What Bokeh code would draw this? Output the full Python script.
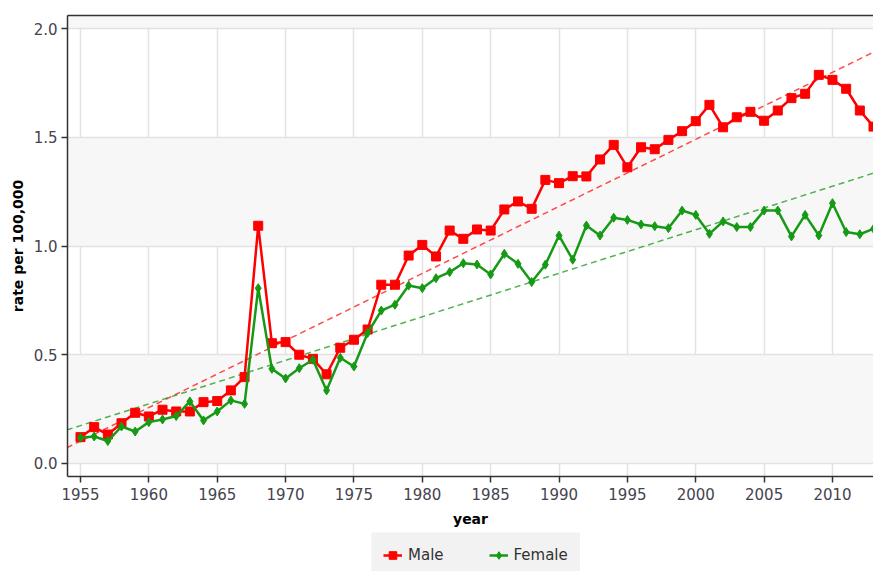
from bokeh.plotting import figure
from bokeh.layouts import column, row
from bokeh.models import (Range1d, SingleIntervalTicker, FixedTicker, Legend, LegendItem,
                          NumeralTickFormatter, LinearAxis, Spacer)
from bokeh.embed import file_html
from bokeh.resources import INLINE

years = list(range(1955, 2014))
male = [0.121, 0.167, 0.133, 0.185, 0.233, 0.216, 0.247, 0.239, 0.239, 0.282, 0.287, 0.336, 0.397,
        1.093, 0.553, 0.558, 0.500, 0.481, 0.410, 0.532, 0.569,
        0.616, 0.822, 0.822, 0.956, 1.005, 0.952, 1.071, 1.033, 1.076, 1.071,
        1.168, 1.205, 1.171, 1.304, 1.289, 1.321, 1.320, 1.398, 1.465, 1.362,
        1.454, 1.445, 1.488, 1.528, 1.574, 1.649, 1.546, 1.592, 1.617, 1.576,
        1.623, 1.680, 1.700, 1.787, 1.764, 1.723, 1.623, 1.549]
female = [0.118, 0.124, 0.103, 0.170, 0.147, 0.190, 0.202, 0.218, 0.285, 0.198, 0.239, 0.290, 0.274,
          0.806, 0.435, 0.391, 0.438, 0.477, 0.336, 0.486, 0.446,
          0.600, 0.703, 0.730, 0.818, 0.806, 0.852, 0.880, 0.921, 0.915, 0.869,
          0.964, 0.918, 0.834, 0.914, 1.048, 0.937, 1.094, 1.048, 1.130, 1.120,
          1.099, 1.091, 1.082, 1.163, 1.143, 1.056, 1.113, 1.087, 1.087, 1.163,
          1.163, 1.044, 1.143, 1.048, 1.197, 1.064, 1.054, 1.079]
trend_years = [1954, 2014]
male_trend = [0.072, 1.922]
female_trend = [0.154, 1.355]
y_ticks = [0.0, 0.5, 1.0, 1.5, 2.0]

RED = "#ff0000"
GREEN = "#169a16"
FONT = "DejaVu Sans"
LEGEND_BG = "#f2f2f2"

p = figure(frame_width=806, frame_height=461, output_backend="svg", toolbar_location=None,
           x_range=Range1d(1954.05, 2013.0), y_range=Range1d(-0.06, 2.06),
           min_border_left=67, min_border_right=0, min_border_top=15, min_border_bottom=56)

p.background_fill_color = "white"
p.border_fill_color = "white"
p.outline_line_color = None

top_axis = LinearAxis(ticker=FixedTicker(ticks=[]), axis_line_color="#333333", axis_line_width=1.5,
                      major_tick_line_color=None, minor_tick_line_color=None,
                      major_label_text_alpha=0, major_tick_out=0, major_label_standoff=0)
p.add_layout(top_axis, "above")

xax = p.below[0]
yax = p.left[0]
xax.ticker = SingleIntervalTicker(interval=5)
yax.ticker = FixedTicker(ticks=y_ticks)
yax.formatter = NumeralTickFormatter(format="0.0")
for ax in (xax, yax):
    ax.axis_line_color = "#333333"
    ax.axis_line_width = 1.5
    ax.major_tick_line_color = "#333333"
    ax.major_tick_line_width = 1.5
    ax.major_tick_out = 6
    ax.major_tick_in = 0
    ax.minor_tick_line_color = None
    ax.major_label_text_font = FONT
    ax.major_label_text_font_size = "15px"
    ax.major_label_text_color = "#44444f"
    ax.axis_label_text_font = FONT
    ax.axis_label_text_font_size = "14px"
    ax.axis_label_text_font_style = "bold"
    ax.axis_label_text_color = "black"
xax.axis_label = "year"
xax.axis_label_standoff = 8
xax.major_label_standoff = 5
yax.axis_label = "rate per 100,000"
yax.major_label_standoff = 4

p.xgrid.grid_line_color = "#e2e2e2"
p.xgrid.grid_line_width = 1.5
p.ygrid.grid_line_color = "#e2e2e2"
p.ygrid.grid_line_width = 1.5
p.ygrid.band_fill_color = "#f7f7f7"
p.ygrid.band_fill_alpha = 1.0

p.line(trend_years, male_trend, line_color=RED, line_alpha=0.7, line_width=1.5, line_dash="6 4")
p.line(trend_years, female_trend, line_color=GREEN, line_alpha=0.75, line_width=1.5, line_dash="6 4")

p.line(years, male, line_color=RED, line_width=2.5)
p.scatter(years, male, marker="square", size=9, fill_color=RED, line_color=RED)
p.line(years, female, line_color=GREEN, line_width=2.5)
p.scatter(years, female, marker="diamond", size=9, fill_color=GREEN, line_color=GREEN)

# legend box below the chart (its series lie outside this small panel's view range)
lg = figure(width=209, height=39, output_backend="svg", toolbar_location=None,
            x_axis_type=None, y_axis_type=None, min_border=0,
            x_range=Range1d(0, 1), y_range=Range1d(0, 1))
lg.outline_line_color = None
lg.background_fill_color = LEGEND_BG
lg.border_fill_color = LEGEND_BG
ml = lg.line(years, male, line_color=RED, line_width=2.5)
ms = lg.scatter(years, male, marker="square", size=9, fill_color=RED, line_color=RED)
fl = lg.line(years, female, line_color=GREEN, line_width=2.5)
fs = lg.scatter(years, female, marker="diamond", size=9, fill_color=GREEN, line_color=GREEN)
legend = Legend(items=[LegendItem(label="Male", renderers=[ml, ms]),
                       LegendItem(label="Female", renderers=[fl, fs])],
                orientation="horizontal", location=(12, 6),
                background_fill_alpha=0.0, border_line_color=None,
                label_text_font=FONT, label_text_font_size="15px",
                label_text_color="#333333", glyph_width=19, label_standoff=6,
                spacing=45, padding=0, margin=0)
lg.add_layout(legend, "center")

layout = column(p, row(Spacer(width=371, height=39), lg, spacing=0), spacing=0)
open("out.html", "w").write(file_html(layout, INLINE))
